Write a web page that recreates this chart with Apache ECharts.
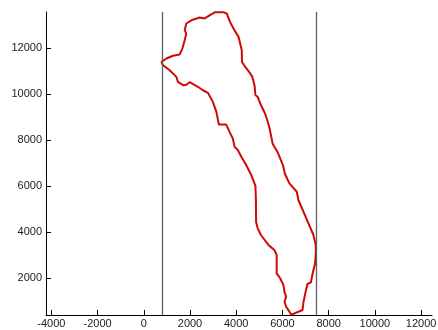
<!DOCTYPE html>
<html>
<head>
<meta charset="utf-8">
<script src="https://cdn.jsdelivr.net/npm/echarts@6/dist/echarts.min.js"></script>
<style>
  html, body { margin: 0; padding: 0; background: #fff; }
  #chart { width: 438px; height: 330px; }
</style>
</head>
<body>
<div id="chart"></div>
<script>
// Closed boundary outline (x, y), traced counter-clockwise from the southern tip
const outlineX = [
  6375, 6870, 6910, 6980, 7080, 7230, 7310, 7320, 7410, 7445,
  7440, 7340, 7120, 6910, 6690, 6620, 6300, 6110, 6020, 5780,
  5580, 5520, 5440, 5365, 5240, 5050, 4930, 4830, 4790, 4700,
  4600, 4400, 4250, 4240, 4100, 3880, 3730, 3595, 3450, 3090,
  2920, 2630, 2420, 2060, 1840, 1770, 1840, 1770, 1670, 1550,
  1265, 980, 765, 830, 1120, 1410, 1480, 1700, 1840, 1985,
  2340, 2560, 2775, 2990, 3140, 3250, 3570, 3710, 3850, 3930,
  4070, 4220, 4430, 4650, 4830, 4850, 4860, 4930, 5070, 5400,
  5650, 5750, 5750, 5900, 6040, 6090, 6160, 6090, 6160, 6300,
  6375
];
const outlineY = [
  400, 610, 960, 1300, 1740, 1810, 1870, 2260, 2610, 3130,
  3430, 3870, 4390, 4880, 5390, 5750, 6110, 6520, 6910, 7490,
  7820, 8120, 8510, 8790, 9160, 9560, 9870, 9950, 10380, 10730,
  10900, 11160, 11390, 11900, 12480, 12840, 13130, 13490, 13550, 13550,
  13460, 13280, 13320, 13200, 13060, 12770, 12620, 12330, 11970, 11710,
  11660, 11540, 11390, 11250, 11030, 10740, 10520, 10380, 10400, 10510,
  10310, 10160, 10050, 9655, 9220, 8670, 8670, 8350, 8070, 7700,
  7560, 7270, 6910, 6470, 6000, 5470, 4430, 4160, 3870, 3430,
  3220, 3000, 2200, 1990, 1700, 1390, 1190, 970, 750, 540,
  400
];

// Vertical reference lines
const guideX = [780, 7450];

// Axis extents and tick values
const xRange = [-4230, 12470];
const yRange = [393, 13560];
const xTicks = [-4000, -2000, 0, 2000, 4000, 6000, 8000, 10000, 12000];
const yTicks = [2000, 4000, 6000, 8000, 10000, 12000];

const outline = outlineX.map((x, i) => [x, outlineY[i]]);

const axisText = { color: '#222', fontSize: 11, fontFamily: 'Liberation Sans, Arial, sans-serif' };

const chart = echarts.init(document.getElementById('chart'), null, { renderer: 'canvas' });
chart.setOption({
  animation: false,
  backgroundColor: '#fff',
  grid: { left: 46, right: 6, top: 12, bottom: 15, containLabel: false, outerBoundsMode: 'none' },
  xAxis: {
    type: 'value',
    min: xRange[0],
    max: xRange[1],
    splitLine: { show: false },
    axisLine: { show: true, onZero: false, lineStyle: { color: '#000', width: 1 } },
    axisTick: { show: true, inside: true, length: 5, customValues: xTicks, lineStyle: { color: '#000' } },
    axisLabel: Object.assign({ margin: 3, customValues: xTicks, formatter: v => String(v) }, axisText)
  },
  yAxis: {
    type: 'value',
    min: yRange[0],
    max: yRange[1],
    splitLine: { show: false },
    axisLine: { show: true, onZero: false, lineStyle: { color: '#000', width: 1 } },
    axisTick: { show: true, inside: true, length: 5, customValues: yTicks, lineStyle: { color: '#000' } },
    axisLabel: Object.assign({ margin: 4, customValues: yTicks, formatter: v => String(v) }, axisText)
  },
  series: [
    {
      type: 'line',
      data: outline,
      showSymbol: false,
      smooth: false,
      lineStyle: { color: '#d00808', width: 2 },
      z: 3,
      markLine: {
        silent: true,
        symbol: ['none', 'none'],
        label: { show: false },
        lineStyle: { color: '#5e5e5e', width: 1.3, type: 'solid' },
        data: guideX.map(x => ({ xAxis: x }))
      }
    }
  ]
});
</script>
</body>
</html>
